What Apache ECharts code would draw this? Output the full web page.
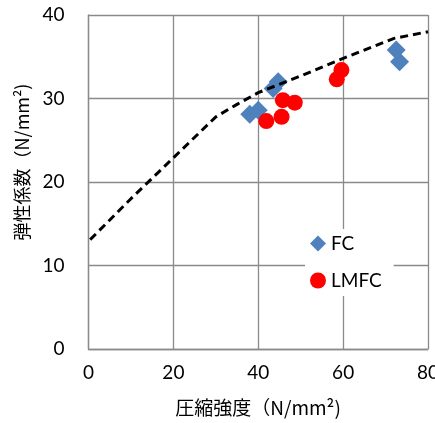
<!DOCTYPE html>
<html><head><meta charset="utf-8">
<script src="https://cdn.jsdelivr.net/npm/echarts@6/dist/echarts.min.js"></script>
<style>html,body{margin:0;padding:0;background:#fff}#c{width:435px;height:423px}</style>
</head><body><div id="c"></div>
<script>
const xTitle = '圧縮強度（N/mm²)';
const yTitle = '弾性係数（N/mm²)';
const xTicks = [0, 20, 40, 60, 80];
const yTicks = [0, 10, 20, 30, 40];
const fcX = [38.0, 40.0, 43.5, 44.7, 72.5, 73.3];
const fcY = [28.1, 28.6, 31.2, 32.0, 35.8, 34.4];
const lmX = [41.9, 45.5, 45.8, 48.6, 58.5, 59.6];
const lmY = [27.3, 27.8, 29.8, 29.5, 32.3, 33.4];
const curveX = [0.4, 10, 20, 30, 35, 40, 50, 60, 66, 72, 80];
const curveY = [13.1, 18.0, 22.9, 27.8, 29.3, 30.7, 32.7, 34.8, 36.0, 37.2, 38.0];

const zip = (a, b) => a.map((v, i) => [v, b[i]]);
const gridColor = '#8a8a8a';
const tickFont = 'Lato, "Open Sans", sans-serif';
const chart = echarts.init(document.getElementById('c'));
chart.setOption({
  animation: false,
  grid: {left: 88.5, right: 7, top: 15, bottom: 74, containLabel: false, outerBoundsMode: 'none'},
  xAxis: {
    type: 'value', min: xTicks[0], max: xTicks[xTicks.length-1], interval: 20,
    axisLine: {show: true, lineStyle: {color: gridColor, width: 1.3}},
    axisTick: {show: false},
    splitLine: {show: true, lineStyle: {color: gridColor, width: 1.3}},
    axisLabel: {color: '#000', fontSize: 19, fontFamily: tickFont, margin: 14}
  },
  yAxis: {
    type: 'value', min: yTicks[0], max: yTicks[yTicks.length-1], interval: 10,
    axisLine: {show: true, lineStyle: {color: gridColor, width: 1.3}},
    axisTick: {show: false},
    splitLine: {show: true, lineStyle: {color: gridColor, width: 1.3}},
    axisLabel: {color: '#000', fontSize: 19, fontFamily: tickFont, margin: 24}
  },
  legend: {
    data: ['FC', 'LMFC'], orient: 'vertical', left: 305, top: 229,
    backgroundColor: '#fff', padding: [5, 12, 6, 5], itemGap: 18,
    itemWidth: 16, itemHeight: 16, itemStyle: {borderWidth: 0},
    textStyle: {fontSize: 19, fontFamily: tickFont, color: '#000'}
  },
  graphic: [
    {type: 'text', x: 258, y: 408, style: {text: xTitle, font: '19px "Noto Sans CJK JP"', fill: '#000', align: 'center', verticalAlign: 'middle'}},
    {type: 'text', x: 22, y: 162, rotation: Math.PI/2, style: {text: yTitle, font: '18px "Noto Sans CJK JP"', fill: '#000', align: 'center', verticalAlign: 'middle'}}
  ],
  series: [
    {name: 'FC', type: 'scatter', symbol: 'diamond', symbolSize: 19, data: zip(fcX, fcY), itemStyle: {color: '#4f81bd', opacity: 1}, z: 2},
    {name: 'LMFC', type: 'scatter', symbol: 'circle', symbolSize: 16, data: zip(lmX, lmY), itemStyle: {color: '#ff0000', opacity: 1}, z: 2},
    {name: 'curve', type: 'line', data: zip(curveX, curveY), symbol: 'none', z: 3,
     lineStyle: {color: '#000', width: 3, type: [8, 5]}}
  ]
});
</script></body></html>
